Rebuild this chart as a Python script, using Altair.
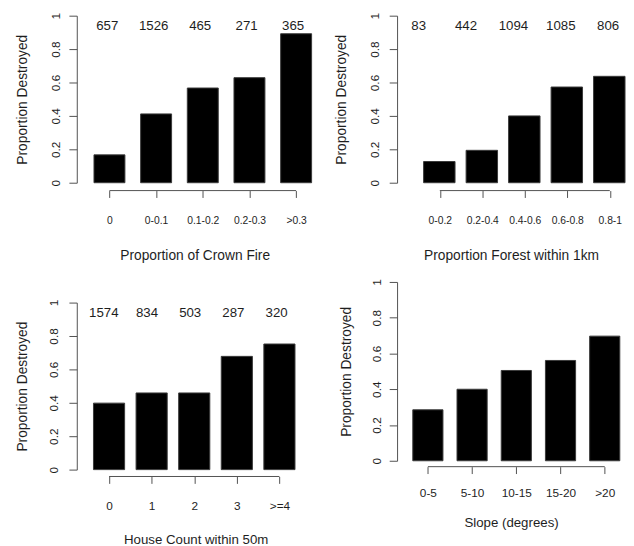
import altair as alt
import pandas as pd

FONT = "Liberation Sans"
TEXT = "#1e1e1e"
LINE = "#505050"

# ---------------- data ----------------
crown_cats = ["0", "0-0.1", "0.1-0.2", "0.2-0.3", ">0.3"]
crown_vals = [0.167, 0.412, 0.567, 0.629, 0.892]
crown_counts = [657, 1526, 465, 271, 365]

forest_cats = ["0-0.2", "0.2-0.4", "0.4-0.6", "0.6-0.8", "0.8-1"]
forest_vals = [0.127, 0.194, 0.400, 0.573, 0.637]
forest_counts = [83, 442, 1094, 1085, 806]

house_cats = ["0", "1", "2", "3", ">=4"]
house_vals = [0.398, 0.459, 0.459, 0.678, 0.752]
house_counts = [1574, 834, 503, 287, 320]

slope_cats = ["0-5", "5-10", "10-15", "15-20", ">20"]
slope_vals = [0.285, 0.400, 0.505, 0.561, 0.697]


def panel(cats, vals, counts, xtitle, W, H, L, step, bw, lab_first, lab_step,
          y_lpad, y_tpad, x_off, x_lpad, x_tpad, xlab_size, xtitle_size):
    n = len(cats)
    df = pd.DataFrame({"cat": cats, "val": vals})
    if counts is not None:
        df["count"] = counts

    # band scale for the bars
    p_i = 1 - bw / step
    R = W - step * (n - p_i)
    band = alt.Scale(type="band", domain=cats, paddingInner=p_i,
                     paddingOuter=R / step / 2, align=L / R)
    # point scale at the bar centres (for the R-style x axis)
    c0 = L + bw / 2
    Rp = W - step * (n - 1)
    pt = alt.Scale(type="point", domain=cats, padding=Rp / step / 2, align=c0 / Rp)

    yscale = alt.Scale(domain=[0, 1], nice=False, zero=True)
    yaxis = alt.Axis(
        values=[0, 0.2, 0.4, 0.6, 0.8, 1], format="~g", grid=False,
        labelAngle=270, labelAlign="center", labelBaseline="bottom",
        labelOverlap=False, labelBound=False, labelFlush=False,
        tickSize=8, tickColor=LINE, domainColor=LINE,
        labelPadding=y_lpad, labelFont=FONT, labelFontSize=12, labelColor=TEXT,
        title="Proportion Destroyed", titlePadding=y_tpad, titleFont=FONT,
        titleFontSize=14, titleFontWeight="normal", titleColor=TEXT,
    )

    bars = alt.Chart(df).mark_bar(color="black", stroke="#3a3a3a", strokeWidth=1).encode(
        x=alt.X("cat:N", scale=band, axis=None, sort=None),
        y=alt.Y("val:Q", scale=yscale, axis=yaxis),
    )

    axis_df = pd.DataFrame({"a": [cats[0]], "b": [cats[-1]]})
    xaxis = alt.Axis(
        domain=False, offset=x_off, tickSize=7, tickColor=LINE, labelAngle=0,
        labelOverlap=False, labelPadding=x_lpad, labelFont=FONT,
        labelFontSize=xlab_size, labelColor=TEXT, title=xtitle,
        titlePadding=x_tpad, titleFont=FONT, titleFontSize=xtitle_size,
        titleFontWeight="normal", titleColor=TEXT,
    )
    rule = alt.Chart(axis_df).mark_rule(color=LINE, strokeWidth=1).encode(
        x=alt.X("a:N", scale=pt, axis=xaxis, sort=None),
        x2="b:N",
        y=alt.value(H + x_off),
    )
    layers = [bars, rule]

    if counts is not None:
        Rt = W - lab_step * (n - 1)
        pt_t = alt.Scale(type="point", domain=cats, padding=Rt / lab_step / 2,
                         align=lab_first / Rt)
        text = alt.Chart(df).mark_text(font=FONT, fontSize=13.5, color=TEXT,
                                       baseline="middle").encode(
            x=alt.X("cat:N", scale=pt_t, axis=None, sort=None),
            y=alt.YDatum(0.94, type="quantitative", scale=yscale, axis=yaxis),
            text="count:Q",
        )
        layers.append(text)

    return alt.layer(*layers).resolve_scale(x="independent").properties(width=W, height=H)


p1 = panel(crown_cats, crown_vals, crown_counts, "Proportion of Crown Fire",
           W=240, H=170, L=17.5, step=47.5, bw=31.5, lab_first=31, lab_step=47.3,
           y_lpad=7, y_tpad=20, x_off=8, x_lpad=19, x_tpad=23,
           xlab_size=10.5, xtitle_size=14)
p2 = panel(forest_cats, forest_vals, forest_counts, "Proportion Forest within 1km",
           W=232, H=170, L=27.5, step=43.25, bw=32, lab_first=22, lab_step=48.2,
           y_lpad=8, y_tpad=20, x_off=8, x_lpad=19, x_tpad=23,
           xlab_size=10.5, xtitle_size=14)
p3 = panel(house_cats, house_vals, house_counts, "House Count within 50m",
           W=242, H=170, L=17, step=43.35, bw=31.7, lab_first=27.5, lab_step=43.96,
           y_lpad=9, y_tpad=18, x_off=7, x_lpad=18, x_tpad=21,
           xlab_size=12, xtitle_size=13.5)
p4 = panel(slope_cats, slope_vals, None, "Slope (degrees)",
           W=232, H=182, L=16, step=45, bw=30.7, lab_first=0, lab_step=45,
           y_lpad=6, y_tpad=17, x_off=6, x_lpad=14, x_tpad=18,
           xlab_size=12, xtitle_size=13.5)

left = alt.concat(p1, p3, columns=1, align="none", spacing=36)
right = alt.concat(p2, p4, columns=1, align="none", spacing=15)

chart = alt.hconcat(left, right, spacing=20).properties(
    padding={"left": 7, "top": -1, "right": 0, "bottom": 0}
).configure_view(stroke=None)

chart.save("out.html", embed_options={"renderer": "svg", "actions": False})
